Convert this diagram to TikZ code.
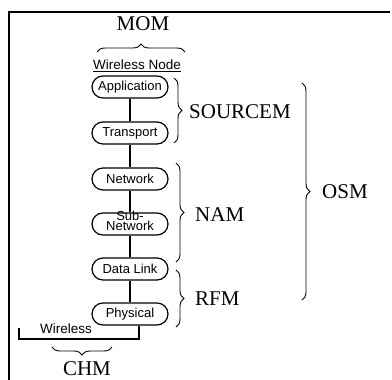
\documentclass[tikz,border=0pt]{standalone}
\usepackage{fontspec}
\setmainfont{Liberation Serif}
\newfontfamily\layerfont{Liberation Sans}
\usetikzlibrary{calc}
\usetikzlibrary{decorations.pathreplacing}

\tikzset{
  layer/.style={draw, line width=1.2pt, rectangle, rounded corners=11pt,
    minimum width=76pt, minimum height=22pt, inner sep=0pt,
    font=\layerfont\fontsize{13}{13}\selectfont},
  sanslabel/.style={inner sep=0pt, font=\layerfont\fontsize{13.5}{13.5}\selectfont},
  model/.style={inner sep=0pt, font=\fontsize{21}{21}\selectfont},
  brace/.style={decorate, decoration={brace, amplitude=8pt}, line width=0.9pt},
}

\begin{document}
\begin{tikzpicture}[x=1pt, y=-1pt]
          \useasboundingbox (0, 0) rectangle (392, 380);
          \draw[line width=1.2pt] (390, 12) -- (9, 12) -- (9, 380);

          \node[model] (mom) at (143, 24) {MOM};
          \draw[brace] (97, 52) -- (185, 52);
          \node[sanslabel] (wnode) at (137, 66) {\underline{Wireless Node}};

          \node[layer] (app) at (130, 87) {Application};
          \node[layer] (trans) at (130, 133) {Transport};
          \node[layer] (net) at (130, 179) {Network};
          \node[layer] (sub) at (130, 224) {};
          \node[font=\layerfont\fontsize{13}{10}\selectfont, align=center, inner sep=0pt] (subtext) at (130, 221) {Sub-\\Network};
          \node[layer] (link) at (130, 269) {Data Link};
          \node[layer] (phys) at (130, 314) {Physical};

          \draw[line width=1.2pt] (app) -- (trans);
          \draw[line width=1.2pt] (trans) -- (net);
          \draw[line width=1.2pt] (net) -- (sub);
          \draw[line width=1.2pt] (sub) -- (link);
          \draw[line width=1.2pt] (link) -- (phys);

          \coordinate (wa) at ($(phys.south) + (9, 0)$);
          \coordinate (wb) at (19, 328);
          \draw[line width=1.2pt] (wa) -- (wa |- 0, 339) -- (wb |- 0, 339) -- (wb);
          \node[sanslabel] (wireless) at (66, 329) {Wireless};

          \draw[brace] (112, 347) -- (52, 347);
          \node[model] (chm) at (87, 369) {CHM};

          \draw[brace] (174, 78) -- (174, 143);
          \node[model, anchor=west] (sourcem) at (189, 112) {SOURCEM};
          \draw[brace] (176, 163) -- (176, 262);
          \node[model, anchor=west] (nam) at (195, 215) {NAM};
          \draw[brace] (176, 270) -- (176, 327);
          \node[model, anchor=west] (rfm) at (195, 299) {RFM};

          \draw[brace] (302, 83) -- (302, 300);
          \node[model, anchor=west] (osm) at (322, 192) {OSM};
        \end{tikzpicture}
\end{document}
